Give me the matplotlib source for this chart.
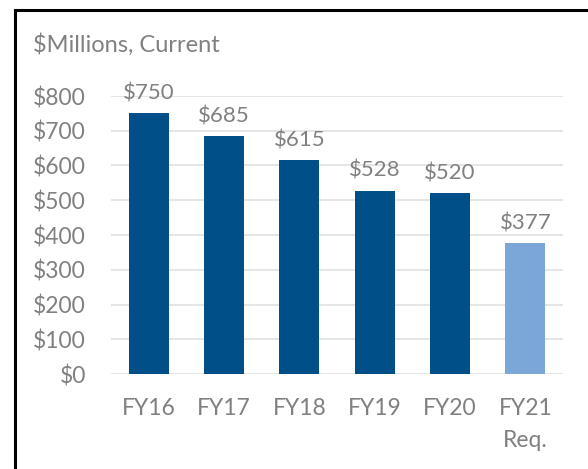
import matplotlib
matplotlib.use("Agg")
import matplotlib.pyplot as plt
from matplotlib.lines import Line2D

categories = ["FY16", "FY17", "FY18", "FY19", "FY20", "FY21\nReq."]
values = [750, 685, 615, 528, 520, 377]
labels = ["$750", "$685", "$615", "$528", "$520", "$377"]
bar_colors = ["#004F88", "#004F88", "#004F88", "#004F88", "#004F88", "#7BA6D8"]
yticks = [0, 100, 200, 300, 400, 500, 600, 700, 800]
ytick_labels = ["$0", "$100", "$200", "$300", "$400", "$500", "$600", "$700", "$800"]
unit_label = "$Millions, Current"

plt.rcParams['font.family'] = ['Lato', 'DejaVu Sans']
gray = "#808080"

fig = plt.figure(figsize=(5.88, 4.69), dpi=100)
ax = fig.add_axes([111/588, 1-374/469, (563-111)/588, (374-96)/469])

x = list(range(len(categories)))
ax.bar(x, values, width=0.53, color=bar_colors, zorder=3)
for xi, v, lab in zip(x, values, labels):
    ax.annotate(lab, (xi, v), xytext=(0, 7), textcoords="offset points",
                ha="center", va="bottom", fontsize=16, color=gray, zorder=4)

ax.set_xlim(-0.5, len(categories) - 0.5)
ax.set_ylim(0, 800)
ax.set_yticks(yticks)
ax.set_yticklabels(ytick_labels)
ax.set_xticks(x)
ax.set_xticklabels(categories, linespacing=1.65)
ax.tick_params(axis="y", length=0, pad=18, labelsize=16.5, labelcolor=gray)
ax.tick_params(axis="x", length=0, pad=17, labelsize=16.5, labelcolor=gray)
ax.grid(axis="y", color="#DEDEDE", linewidth=1.1, zorder=0)
for s in ax.spines.values():
    s.set_visible(False)

fig.text(33/588, 1-45/469, unit_label, fontsize=17, color=gray, va="center", ha="left")

fig.add_artist(Line2D([15/588, 15/588], [0, 1-10/469], color="black", linewidth=2.2, transform=fig.transFigure))
fig.add_artist(Line2D([15/588, 1], [1-10/469, 1-10/469], color="black", linewidth=2.2, transform=fig.transFigure))

fig.savefig("out.png", dpi=100)
